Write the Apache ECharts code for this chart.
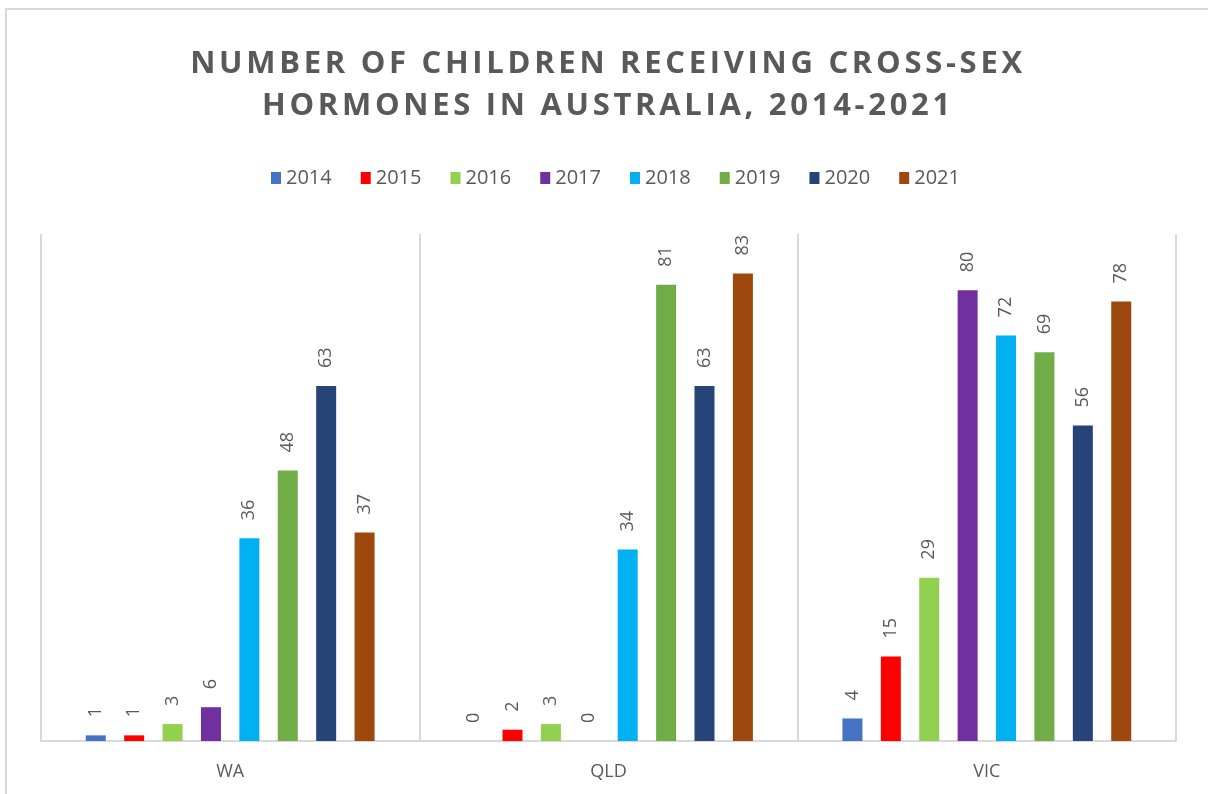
<!DOCTYPE html>
<html>
<head>
<meta charset="utf-8">
<script src="https://cdn.jsdelivr.net/npm/echarts@6/dist/echarts.min.js"></script>
<style>
  html, body { margin: 0; padding: 0; background: #ffffff; }
  #chart { width: 1208px; height: 794px; }
</style>
</head>
<body>
<div id="chart"></div>
<script>
// States shown along the category axis
const states = ['WA', 'QLD', 'VIC'];

// One series per year: counts for WA, QLD, VIC
const years = ['2014', '2015', '2016', '2017', '2018', '2019', '2020', '2021'];
const v2014 = [1, 0, 4];
const v2015 = [1, 2, 15];
const v2016 = [3, 3, 29];
const v2017 = [6, 0, 80];
const v2018 = [36, 34, 72];
const v2019 = [48, 81, 69];
const v2020 = [63, 63, 56];
const v2021 = [37, 83, 78];

// Chart title, one entry per line
const titleLines = ['NUMBER OF CHILDREN RECEIVING CROSS-SEX', 'HORMONES IN AUSTRALIA, 2014-2021'];

const yearValues = [v2014, v2015, v2016, v2017, v2018, v2019, v2020, v2021];
const yearColors = ['#4472C4', '#FF0000', '#92D050', '#7030A0', '#00B0F0', '#70AD47', '#264478', '#9E480E'];

const textGray = '#595959';
const lineGray = '#d9d9d9';
const fontFamily = '"Open Sans", "Noto Sans", sans-serif';

// The title is drawn with wide tracking; ECharts has no letter-spacing option,
// so the canvas letterSpacing property is applied only while the title lines are painted.
(function () {
  const proto = CanvasRenderingContext2D.prototype;
  const origFill = proto.fillText;
  proto.fillText = function (text, x, y, maxWidth) {
    if (titleLines.indexOf(text) >= 0 && 'letterSpacing' in this) {
      const prev = this.letterSpacing;
      this.letterSpacing = '3.7px';
      const r = maxWidth === undefined ? origFill.call(this, text, x + 4, y) : origFill.call(this, text, x + 4, y, maxWidth);
      this.letterSpacing = prev;
      return r;
    }
    return maxWidth === undefined ? origFill.call(this, text, x, y) : origFill.call(this, text, x, y, maxWidth);
  };
})();

const series = years.map((y, i) => ({
  name: y,
  type: 'bar',
  data: yearValues[i],
  barWidth: 20,
  barGap: '92%',
  itemStyle: { color: yearColors[i] },
  label: {
    show: true,
    position: 'top',
    rotate: 90,
    align: 'left',
    verticalAlign: 'middle',
    distance: 18,
    color: textGray,
    fontSize: 18,
    fontFamily: fontFamily
  }
}));

const chart = echarts.init(document.getElementById('chart'), null, { renderer: 'canvas' });
chart.setOption({
  animation: false,
  backgroundColor: '#ffffff',
  title: {
    text: titleLines.join('\n'),
    left: 'center',
    top: 38,
    textStyle: {
      color: textGray,
      fontSize: 31,
      fontWeight: 'bold',
      fontFamily: fontFamily,
      lineHeight: 42
    }
  },
  legend: {
    data: years,
    top: 163,
    left: 266,
    icon: 'rect',
    itemWidth: 10,
    itemHeight: 12,
    itemGap: 29,
    textStyle: { color: textGray, fontSize: 20, fontFamily: fontFamily }
  },
  grid: { left: 41, right: 32, top: 234, bottom: 53, containLabel: false },
  xAxis: {
    type: 'category',
    data: states,
    boundaryGap: true,
    axisLine: { show: true, lineStyle: { color: lineGray, width: 2 } },
    axisTick: { show: false },
    splitLine: { show: true, lineStyle: { color: lineGray, width: 2 } },
    axisLabel: { color: textGray, fontSize: 18, fontFamily: fontFamily, margin: 22 }
  },
  yAxis: {
    type: 'value',
    min: 0,
    max: 90,
    show: false,
    splitLine: { show: false }
  },
  graphic: [{
    type: 'rect',
    silent: true,
    shape: { x: 6, y: 9, width: 1230, height: 820 },
    style: { fill: 'none', stroke: lineGray, lineWidth: 2 }
  }],
  series: series
});
</script>
</body>
</html>
